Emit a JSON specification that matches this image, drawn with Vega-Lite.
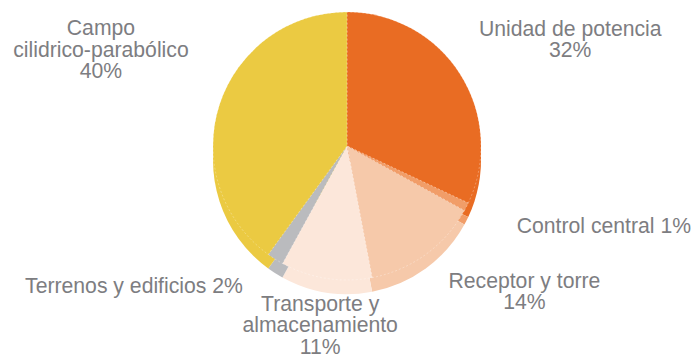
{
  "$schema": "https://vega.github.io/schema/vega-lite/v6.json",
  "width": 694,
  "height": 292,
  "autosize": {"type": "none"},
  "padding": {"left": 0, "right": 3, "top": 0, "bottom": 66},
  "background": "#ffffff",
  "config": {
    "view": {"stroke": null},
    "text": {"font": "Liberation Sans", "fontSize": 21.2, "lineHeight": 21.5, "color": "#7d7d81", "fill": "#7d7d81"}
  },
  "data": {
    "values": [
      {"orden": 1, "concepto": "Unidad de potencia", "valor": 32, "etiqueta": "Unidad de potencia\n32%"},
      {"orden": 2, "concepto": "Control central", "valor": 1, "etiqueta": "Control central 1%"},
      {"orden": 3, "concepto": "Receptor y torre", "valor": 14, "etiqueta": "Receptor y torre\n14%"},
      {"orden": 4, "concepto": "Transporte y almacenamiento", "valor": 11, "etiqueta": "Transporte y\nalmacenamiento\n11%"},
      {"orden": 5, "concepto": "Terrenos y edificios", "valor": 2, "etiqueta": "Terrenos y edificios 2%"},
      {"orden": 6, "concepto": "Campo cilidrico-parabólico", "valor": 40, "etiqueta": "Campo\ncilidrico-parabólico\n40%"}
    ]
  },
  "encoding": {
    "theta": {"field": "valor", "type": "quantitative", "stack": true},
    "order": {"field": "orden", "type": "quantitative"},
    "detail": {"field": "concepto", "type": "nominal"}
  },
  "layer": [
    {
      "description": "side of the disc: same slices pushed down",
      "mark": {"type": "arc", "radius": 134, "yOffset": 14},
      "encoding": {
        "color": {
          "field": "concepto", "type": "nominal", "legend": null,
          "scale": {
            "domain": ["Unidad de potencia", "Control central", "Receptor y torre", "Transporte y almacenamiento", "Terrenos y edificios", "Campo cilidrico-parabólico"],
            "range": ["#e96c23", "#f19d68", "#f6c9aa", "#fce7da", "#babbbe", "#ebca42"]
          }
        }
      }
    },
    {
      "description": "top face of the disc",
      "mark": {"type": "arc", "radius": 134, "stroke": "#ffffff", "strokeWidth": 0.6, "strokeOpacity": 0.5, "strokeDash": [2, 2]},
      "encoding": {
        "color": {
          "field": "concepto", "type": "nominal", "legend": null,
          "scale": {
            "domain": ["Unidad de potencia", "Control central", "Receptor y torre", "Transporte y almacenamiento", "Terrenos y edificios", "Campo cilidrico-parabólico"],
            "range": ["#eb6e25", "#f3a26f", "#f8cdae", "#fdeadf", "#bebfc1", "#edcd45"]
          }
        }
      }
    },
    {
      "mark": {"type": "text", "radius": 249, "align": "center", "baseline": "middle", "lineBreak": "\n", "dx": 13, "dy": 17},
      "encoding": {"text": {"condition": {"test": "datum.orden === 1", "field": "etiqueta"}, "value": ""}}
    },
    {
      "mark": {"type": "text", "radius": 186, "align": "left", "baseline": "middle", "lineBreak": "\n", "dx": 4, "dy": -3},
      "encoding": {"text": {"condition": {"test": "datum.orden === 2", "field": "etiqueta"}, "value": ""}}
    },
    {
      "mark": {"type": "text", "radius": 227, "align": "center", "baseline": "middle", "lineBreak": "\n", "dx": 44, "dy": -48},
      "encoding": {"text": {"condition": {"test": "datum.orden === 3", "field": "etiqueta"}, "value": ""}}
    },
    {
      "mark": {"type": "text", "radius": 178, "align": "center", "baseline": "middle", "lineBreak": "\n", "dx": 1, "dy": -17},
      "encoding": {"text": {"condition": {"test": "datum.orden === 4", "field": "etiqueta"}, "value": ""}}
    },
    {
      "mark": {"type": "text", "radius": 252, "align": "center", "baseline": "middle", "lineBreak": "\n", "dx": -78, "dy": -72},
      "encoding": {"text": {"condition": {"test": "datum.orden === 5", "field": "etiqueta"}, "value": ""}}
    },
    {
      "mark": {"type": "text", "radius": 265, "align": "center", "baseline": "middle", "lineBreak": "\n", "dx": 6, "dy": -35},
      "encoding": {"text": {"condition": {"test": "datum.orden === 6", "field": "etiqueta"}, "value": ""}}
    }
  ]
}
